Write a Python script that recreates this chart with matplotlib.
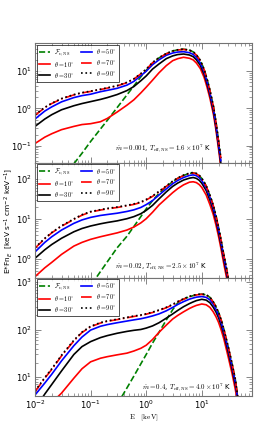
import matplotlib
matplotlib.use("Agg")
import matplotlib.pyplot as plt
from matplotlib.font_manager import FontProperties
from matplotlib.ticker import LogLocator, NullFormatter

plt.rcParams['font.family'] = ['DejaVu Sans']
plt.rcParams['mathtext.fontset'] = 'dejavusans'

# ---------------- data ----------------
# panel 1 : mdot = 0.001
E1 = [0.01, 0.015, 0.02, 0.03, 0.05, 0.07, 0.1, 0.15, 0.2, 0.3, 0.45, 0.6, 0.8, 1.0, 1.3, 1.7,
      2.3, 3.0, 3.7, 4.7, 6, 7, 8, 9.4, 11, 12.4, 14, 16.3, 18, 20, 22]
p1_t10 = [0.115, 0.17, 0.21, 0.27, 0.33, 0.37, 0.39, 0.44, 0.54, 0.8, 1.22, 1.7, 2.6, 3.7, 5.7, 9.0,
          14, 19, 21.5, 23.4, 22, 19.9, 16.4, 11.7, 6.8, 3.75, 1.87, 0.66, 0.26, 0.082, 0.028]
p1_t30 = [0.33, 0.52, 0.68, 0.92, 1.18, 1.35, 1.52, 1.74, 1.95, 2.35, 3.0, 3.85, 5.5, 7.4, 11.3, 15.5,
          21.5, 25.5, 27.7, 28.6, 26.9, 24.3, 20, 14.3, 8.3, 4.6, 2.3, 0.8, 0.31, 0.1, 0.034]
p1_t50 = [0.52, 0.85, 1.1, 1.5, 1.95, 2.2, 2.4, 2.8, 3.05, 3.45, 4.2, 5.3, 7.5, 9.9, 14.8, 20,
          26.5, 30.5, 32.3, 33, 31, 28, 23, 16.5, 9.6, 5.3, 2.6, 0.92, 0.36, 0.115, 0.04]
p1_t70 = [0.65, 1.05, 1.35, 1.8, 2.3, 2.6, 2.85, 3.2, 3.5, 4.0, 4.9, 6.1, 8.4, 11, 16.7, 22.5,
          29, 34, 36.5, 38, 35.7, 32.3, 26.6, 19, 11, 6.1, 3.0, 1.06, 0.42, 0.133, 0.046]
p1_t90 = [0.67, 1.07, 1.38, 1.84, 2.35, 2.65, 2.9, 3.26, 3.57, 4.08, 5.0, 6.2, 8.6, 11.2, 17, 23,
          29.6, 34.7, 37.2, 38.8, 36.4, 33, 27.1, 19.4, 11.2, 6.2, 3.06, 1.08, 0.43, 0.136, 0.047]
E1_ns = [0.05, 0.07, 0.1, 0.15, 0.2, 0.3, 0.45, 0.6, 0.8, 1.0, 1.3, 1.7, 2.3, 3.0, 3.7, 4.7,
         6, 7, 8, 9.4, 11, 12.4, 14, 16.3, 18, 20, 22]
p1_ns = [0.033, 0.063, 0.13, 0.28, 0.48, 1.05, 2.3, 4.0, 7.0, 10.5, 16, 22.5, 29, 34.5, 37, 38.5,
         36.2, 32.7, 27, 19.3, 11.2, 6.2, 3.05, 1.08, 0.43, 0.135, 0.047]

# panel 2 : mdot = 0.02
E2 = [0.01, 0.015, 0.02, 0.03, 0.05, 0.07, 0.1, 0.15, 0.2, 0.3, 0.45, 0.6, 0.8, 1.0, 1.3, 1.7,
      2.3, 3.0, 3.7, 4.7, 6, 7, 8, 9, 10, 12, 14, 16, 18, 20, 22, 25, 28, 30]
p2_t10 = [0.36, 0.6, 0.82, 1.3, 2.1, 2.6, 3.1, 3.6, 3.95, 4.5, 5.3, 6.3, 8.0, 10.2, 14.8, 22.5,
          33, 46, 58, 72, 84, 86, 82, 73, 62, 40, 23, 13.3, 7.1, 3.7, 1.9, 0.73, 0.33, 0.19]
p2_t30 = [1.04, 1.7, 2.3, 3.3, 4.8, 5.8, 6.7, 7.6, 8.2, 9.0, 10.2, 11.5, 13.6, 16.5, 22, 32,
          48, 66, 80, 95, 106, 110, 104.5, 93.5, 79, 52, 30, 17, 9.1, 4.7, 2.4, 0.94, 0.42, 0.24]
p2_t50 = [1.5, 2.6, 3.6, 5.3, 7.8, 9.5, 11, 12.3, 13, 14, 15.5, 17, 19.5, 23, 29, 40,
          57, 77, 93, 110, 124, 128, 122, 109, 92, 60, 35, 20, 10.6, 5.5, 2.8, 1.1, 0.49, 0.28]
p2_t70 = [1.86, 3.2, 4.5, 6.6, 9.8, 12.5, 15, 16.8, 18, 19.5, 21.5, 23.3, 26, 30, 37, 48,
          66, 87, 105, 123, 138, 143, 136, 121.5, 103, 67, 38.6, 22.2, 11.9, 6.1, 3.1, 1.2, 0.54, 0.31]
p2_t90 = [1.92, 3.3, 4.6, 6.8, 10.1, 12.9, 15.4, 17.2, 18.5, 20, 22.1, 24, 26.8, 31, 38, 49.5,
          68, 89.5, 108, 126.5, 142, 147, 140, 125, 106, 69, 39.7, 22.9, 12.2, 6.3, 3.2, 1.24, 0.56, 0.32]
E2_ns = [0.13, 0.15, 0.2, 0.3, 0.45, 0.6, 0.8, 1.0, 1.3, 1.7, 2.3, 3.0, 3.7, 4.7, 6, 7, 8, 9,
         10, 12, 14, 16, 18, 20, 22, 25, 28, 30]
p2_ns = [0.36, 0.48, 0.85, 1.9, 3.7, 6.5, 11.5, 18, 29, 44, 64, 87, 105, 124, 139, 144, 137, 122,
         104, 68, 39, 22.4, 12, 6.2, 3.15, 1.22, 0.55, 0.32]

# panel 3 : mdot = 0.4
E3 = [0.01, 0.015, 0.02, 0.03, 0.05, 0.07, 0.1, 0.15, 0.2, 0.3, 0.45, 0.6, 0.8, 1.0, 1.3, 1.7,
      2.3, 3.0, 3.7, 4.7, 6, 7, 8, 10, 12, 14, 16, 18, 20, 22, 25, 30, 35, 40, 45]
E3_t10 = [0.026, 0.03, 0.05, 0.07, 0.1, 0.15, 0.2, 0.3, 0.45, 0.6, 0.8, 1.0, 1.3, 1.7,
          2.3, 3.0, 3.7, 4.7, 6, 7, 8, 10, 12, 14, 16, 18, 20, 22, 25, 30, 35, 40, 43]
p3_t10 = [3.9, 4.6, 9.5, 15, 21, 25, 27, 29.5, 32, 35.5, 40.5, 47, 62, 88,
          125, 168, 200, 238, 280, 305, 325, 348, 335, 295, 240, 188, 143, 104, 63, 26, 11.9, 5.6, 3.5]
E3_t30 = [0.014, 0.015, 0.02, 0.03, 0.05, 0.07, 0.1, 0.15, 0.2, 0.3, 0.45, 0.6, 0.8, 1.0, 1.3, 1.7,
          2.3, 3.0, 3.7, 4.7, 6, 7, 8, 10, 12, 14, 16, 18, 20, 22, 25, 30, 35, 40, 43]
p3_t30 = [3.9, 4.4, 7.0, 13.5, 30, 44, 56, 68, 75, 84, 92, 97, 101, 108, 120, 140,
          175, 215, 255, 305, 355, 385, 410, 437, 420, 370, 300, 236, 180, 130, 79, 33, 14.8, 7, 4.4]
p3_t50 = [4.2, 7.5, 11.5, 22, 46, 70, 98, 118, 128, 140, 152, 161, 170, 180, 195, 215,
          250, 295, 340, 390, 440, 465, 485, 500, 480, 425, 345, 270, 205, 150, 90, 38, 17, 8, 3]
p3_t70 = [4.9, 9.5, 14.5, 28, 58, 87, 115, 138, 150, 163, 178, 190, 200, 212, 230, 255,
          290, 335, 385, 440, 495, 520, 540, 557, 535, 475, 385, 300, 228, 167, 100, 42, 19, 9, 3.3]
p3_t90 = [5.1, 9.8, 15, 29, 60, 89, 118, 141, 153, 166, 182, 194, 204, 216, 235, 260,
          296, 342, 393, 449, 505, 530, 551, 568, 546, 485, 393, 306, 233, 170, 102, 43, 19.4, 9.2, 3.4]
E3_ns = [0.365, 0.45, 0.6, 0.8, 1.0, 1.3, 1.7, 2.3, 3.0, 3.7, 4.7, 6, 7, 8, 10, 12, 14, 16,
         18, 20, 22, 25, 30, 35, 40, 45]
p3_ns = [3.9, 5.9, 10.5, 19, 30, 52, 88, 160, 265, 370, 440, 495, 522, 542, 562, 540, 480, 390,
         305, 232, 170, 101, 42, 19, 9, 3.3]

labels = [r'$\mathcal{F}_{\nu,\rm NS}$', r'$\theta=10^{\circ}$', r'$\theta=30^{\circ}$',
          r'$\theta=50^{\circ}$', r'$\theta=70^{\circ}$', r'$\theta=90^{\circ}$']
annots = [r'$\dot{m}=0.001$, $T_{\rm eff,NS}=1.6\times10^{7}$ K',
          r'$\dot{m}=0.02$, $T_{\rm eff,NS}=2.5\times10^{7}$ K',
          r'$\dot{m}=0.4$, $T_{\rm eff,NS}=4.0\times10^{7}$ K']

panels = [
    dict(ns=(E1_ns, p1_ns), t10=(E1, p1_t10), t30=(E1, p1_t30), t50=(E1, p1_t50),
         t70=(E1, p1_t70), t90=(E1, p1_t90), ylim=(0.035, 56), rect=[0.125, 0.630, 0.775, 0.272],
         txt=(0.28, 0.086)),
    dict(ns=(E2_ns, p2_ns), t10=(E2, p2_t10), t30=(E2, p2_t30), t50=(E2, p2_t50),
         t70=(E2, p2_t70), t90=(E2, p2_t90), ylim=(0.34, 257), rect=[0.125, 0.369, 0.775, 0.261],
         txt=(0.28, 0.645)),
    dict(ns=(E3_ns, p3_ns), t10=(E3_t10, p3_t10), t30=(E3_t30, p3_t30), t50=(E3, p3_t50),
         t70=(E3, p3_t70), t90=(E3, p3_t90), ylim=(4.0, 1250), rect=[0.125, 0.100, 0.775, 0.269],
         txt=(0.85, 6.2)),
]

fig = plt.figure(figsize=(2.8, 4.4), dpi=100)
legfont = FontProperties(size=4.5, math_fontfamily='cm')
txtfont = FontProperties(size=5.0, math_fontfamily='cm')
lw = 1.2
edge = '0.45'

for i, p in enumerate(panels):
    ax = fig.add_axes(p['rect'])
    ax.set_xscale('log')
    ax.set_yscale('log')
    ax.plot(*p['ns'], color='g', ls='--', lw=lw, label=labels[0])
    ax.plot(*p['t10'], color='r', ls='-', lw=lw, label=labels[1])
    ax.plot(*p['t30'], color='k', ls='-', lw=lw, label=labels[2])
    ax.plot(*p['t50'], color='b', ls='-', lw=lw, label=labels[3])
    ax.plot(*p['t70'], color='r', ls='-.', lw=lw, label=labels[4])
    ax.plot(*p['t90'], color='k', ls=':', lw=lw, label=labels[5])
    ax.set_xlim(0.01, 80)
    ax.set_ylim(*p['ylim'])
    ax.xaxis.set_major_locator(LogLocator(base=10, numticks=10))
    ax.xaxis.set_minor_locator(LogLocator(base=10, subs=range(2, 10), numticks=20))
    ax.yaxis.set_minor_locator(LogLocator(base=10, subs=range(2, 10), numticks=20))
    ax.yaxis.set_minor_formatter(NullFormatter())
    ax.xaxis.set_minor_formatter(NullFormatter())
    ax.tick_params(which='both', direction='in', top=True, right=True, colors=edge,
                   labelcolor='k', labelsize=6, pad=2)
    ax.tick_params(which='major', length=4, width=0.6)
    ax.tick_params(which='minor', length=2, width=0.5)
    for s in ax.spines.values():
        s.set_color(edge)
        s.set_linewidth(0.8)
    if i < 2:
        ax.tick_params(labelbottom=False)
    leg = ax.legend(loc='upper left', ncol=2, prop=legfont, frameon=True, fancybox=False,
                    edgecolor='k', handlelength=1.8, borderpad=0.35, labelspacing=0.3,
                    columnspacing=1.1, handletextpad=0.6, borderaxespad=0.25)
    leg.get_frame().set_linewidth(0.6)
    ax.text(p['txt'][0], p['txt'][1], annots[i], fontproperties=txtfont, va='center')
    if i == 2:
        ax.set_xlabel(r'$\rm E\quad [ke\,V]$',
                      fontproperties=FontProperties(size=5.2, math_fontfamily='cm'), labelpad=1)

fig.text(0.03, 0.497, r'E*Fn$_E$  [keV s$^{-1}$ cm$^{-2}$ keV$^{-1}$]', rotation=90,
         ha='center', va='center', fontsize=5.3)

fig.savefig('out.png', dpi=100)
